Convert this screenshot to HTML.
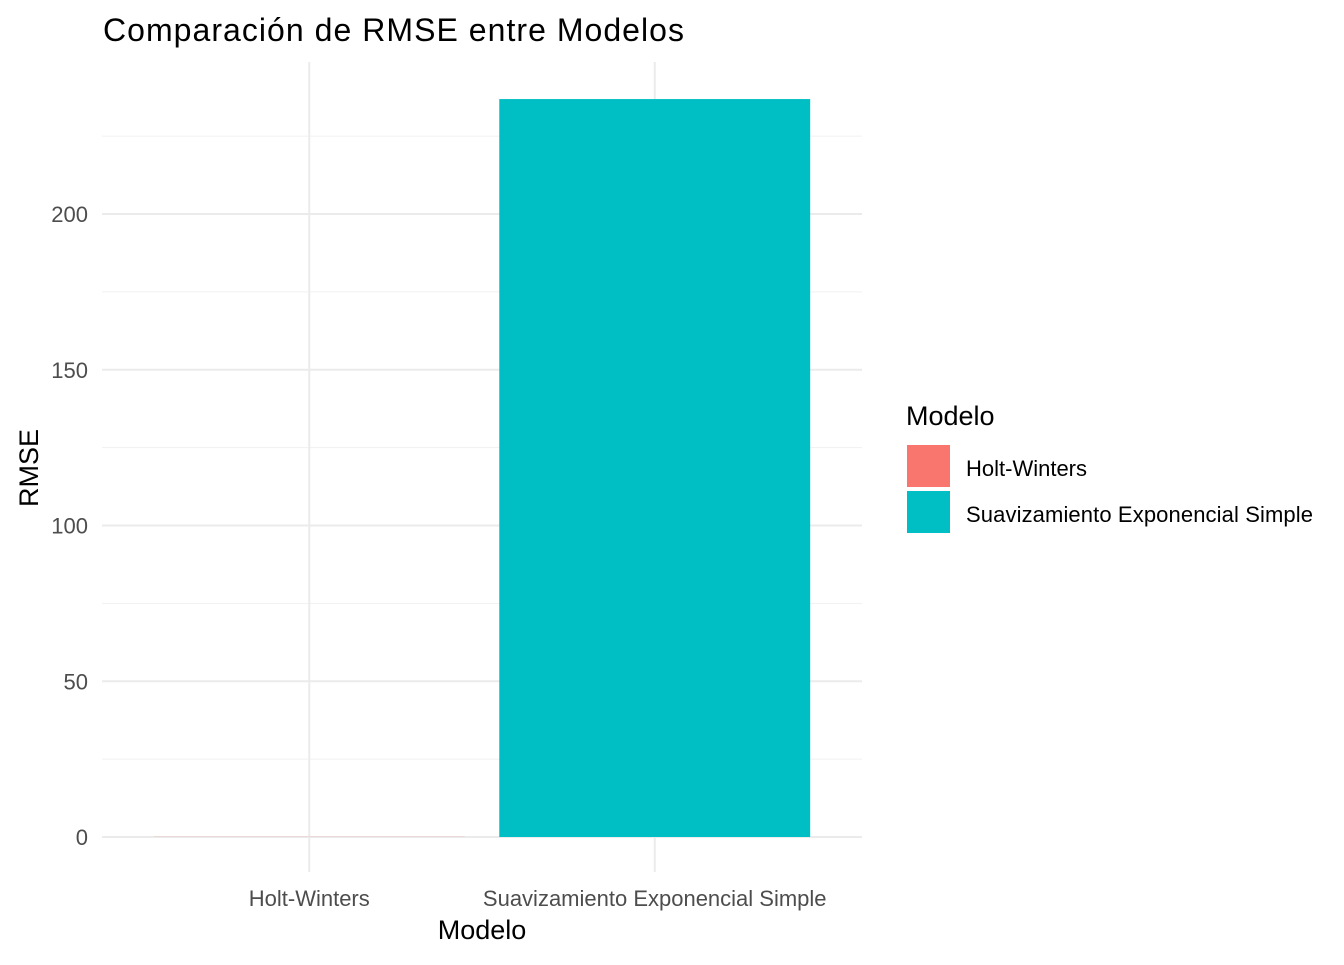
<!DOCTYPE html>
<html><head><meta charset="utf-8"><style>
body{margin:0;background:#fff;font-family:"Liberation Sans",Arial,sans-serif;}
</style></head><body>
<svg width="1344" height="960" xmlns="http://www.w3.org/2000/svg" font-family="Liberation Sans, Arial, sans-serif">
<g id="grid"></g>
<g id="bars"></g>
<g id="axes"></g>
<text x="103" y="41" font-size="32" fill="#000" textLength="581">Comparación de RMSE entre Modelos</text>
<text x="482" y="939" font-size="27" fill="#000" text-anchor="middle">Modelo</text>
<text transform="translate(38,468) rotate(-90)" font-size="27" fill="#000" text-anchor="middle">RMSE</text>
<g>
<text x="906" y="425" font-size="27" fill="#000">Modelo</text>
<rect x="907" y="445" width="43" height="42" fill="#F8766D"/>
<text x="966" y="476" font-size="22" fill="#000">Holt-Winters</text>
<rect x="907" y="491" width="43" height="42" fill="#00BFC4"/>
<text x="966" y="522" font-size="22" fill="#000" textLength="347">Suavizamiento Exponencial Simple</text>
</g>
</svg>
<script>
const categories=["Holt-Winters","Suavizamiento Exponencial Simple"];
const rmseValues=[0.05,236.9];
const barColors=["#F8766D","#00BFC4"];
const yTicks=[0,50,100,150,200];
const NS="http://www.w3.org/2000/svg";
const px0=102,px1=862,py0=62,py1=872;
const y=v=>837-v*(837-214)/200;
const band=(px1-px0)/ (categories.length+0.2);
const x=i=>px0+band*0.6+band*i;
function mk(t,a,p){const e=document.createElementNS(NS,t);for(const k in a)e.setAttribute(k,a[k]);p.appendChild(e);return e;}
const grid=document.getElementById('grid'),bars=document.getElementById('bars'),axes=document.getElementById('axes');
for(let i=0;i<yTicks.length;i++){
 const v=yTicks[i];
 const l=mk('line',{x1:px0,x2:px1,y1:y(v),y2:y(v),stroke:'#ebebeb','stroke-width':2},grid);
 
 
 const mv=v+25;
 const m=mk('line',{x1:px0,x2:px1,y1:y(mv),y2:y(mv),stroke:'#f1f1f1','stroke-width':1},grid);
 
 
 const t=mk('text',{x:88,y:y(v)+8,'font-size':22,fill:'#4d4d4d','text-anchor':'end'},axes);
 t.textContent=v;
 
 
}
categories.forEach((c,i)=>{
 const g=mk('line',{x1:x(i),x2:x(i),y1:py0,y2:py1,stroke:'#ebebeb','stroke-width':2},grid);
 
 
 const w=band*0.9;
 const r=mk('rect',{x:x(i)-w/2,y:y(rmseValues[i]),width:w,height:y(0)-y(rmseValues[i]),fill:barColors[i]},bars);
 
 
 const t=mk('text',{x:x(i),y:906,'font-size':22,fill:'#4d4d4d','text-anchor':'middle'},axes);
 t.textContent=c;
 
 
});
</script>
</body></html>
